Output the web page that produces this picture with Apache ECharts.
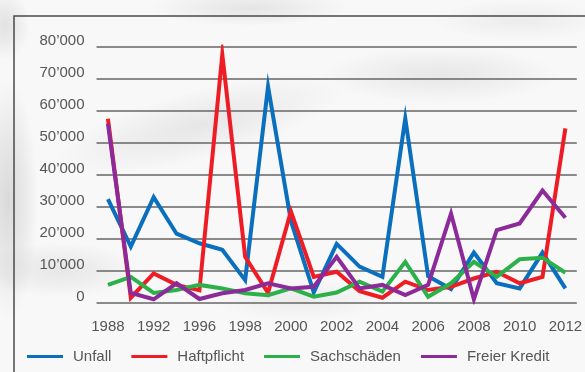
<!DOCTYPE html>
<html>
<head>
<meta charset="utf-8">
<script src="https://cdn.jsdelivr.net/npm/echarts@6/dist/echarts.min.js"></script>
<style>
  html, body { margin: 0; padding: 0; background: #f6f6f6; }
  #chart { width: 585px; height: 372px; }
</style>
</head>
<body>
<div id="chart"></div>
<script>
// Jahre (bis 1996 zweijährlich, danach jährlich)
const years = ['1988', '1990', '1992', '1994', '1996', '1997', '1998', '1999', '2000', '2001',
  '2002', '2003', '2004', '2005', '2006', '2007', '2008', '2009', '2010', '2011', '2012'];

const unfall = [32300, 17500, 32900, 21500, 18500, 16500, 7000, 67500, 25500, 3200,
  18300, 11200, 8000, 57500, 8200, 4200, 15600, 6000, 4400, 15600, 4400];
const haftpflicht = [57400, 1500, 9100, 5500, 3800, 77500, 14300, 3000, 28500, 8000,
  9600, 3500, 1500, 6500, 3900, 4900, 7500, 9600, 6000, 8000, 54400];
const sachschaeden = [5500, 8000, 3000, 3900, 5500, 4400, 2900, 2300, 4400, 1800,
  3100, 6500, 3400, 12700, 1800, 6000, 12700, 8000, 13500, 14000, 9300];
const freierKredit = [55900, 3000, 1000, 6000, 1100, 2900, 3900, 6000, 4400, 4900,
  14300, 4400, 5500, 2300, 5500, 27800, 1000, 22600, 24700, 35000, 26500];

const seriesNames = ['Unfall', 'Haftpflicht', 'Sachschäden', 'Freier Kredit'];
const seriesColors = ['#0a6fbd', '#ee1d25', '#2bb04a', '#8b2a98'];

const chart = echarts.init(document.getElementById('chart'), null, { renderer: 'canvas' });

// soft grey smudges of the paper texture
function smudge(cx, cy, rx, ry, a, rot) {
  return {
    type: 'circle', z: -10, silent: true,
    shape: { cx: 0, cy: 0, r: ry },
    x: cx, y: cy,
    scaleX: rx / ry, scaleY: 1,
    rotation: rot || 0,
    style: {
      fill: new echarts.graphic.RadialGradient(0.5, 0.5, 0.5, [
        { offset: 0, color: 'rgba(0,0,0,' + a + ')' },
        { offset: 0.5, color: 'rgba(0,0,0,' + (a * 0.55) + ')' },
        { offset: 1, color: 'rgba(0,0,0,0)' }
      ])
    }
  };
}

const fontFam = '"Liberation Sans", Arial, Helvetica, sans-serif';

const option = {
  backgroundColor: '#f8f8f8',
  animation: false,
  textStyle: { fontFamily: fontFam },
  graphic: [
    smudge(8, 200, 30, 120, 0.12),
    smudge(5, 25, 25, 35, 0.09),
    smudge(200, 125, 150, 35, 0.07, 0.25),
    smudge(440, 75, 120, 28, 0.07),
    smudge(250, 8, 100, 18, 0.08),
    smudge(60, 270, 80, 28, 0.07),
    smudge(300, 300, 90, 20, 0.05),
    smudge(520, 20, 90, 20, 0.05),
    {
      type: 'rect', z: 10, silent: true,
      shape: { x: 14, y: 16, width: 700, height: 500 },
      style: { fill: 'none', stroke: '#4a4a4a', lineWidth: 1.5 }
    }
  ],
  grid: { left: 96.5, right: 5.5, top: 46.5, bottom: 69.5 },
  legend: {
    data: seriesNames,
    icon: 'rect',
    left: 22, top: 344,
    itemWidth: 36, itemHeight: 3, itemGap: 20,
    textStyle: { color: '#555', fontSize: 15, fontFamily: fontFam, padding: [0, 0, 0, 5] }
  },
  xAxis: {
    type: 'category',
    data: years,
    boundaryGap: true,
    axisLine: { show: false },
    axisTick: { show: false },
    axisLabel: { interval: 1, color: '#555', fontSize: 15, margin: 17, fontFamily: fontFam }
  },
  yAxis: {
    type: 'value',
    min: 0, max: 80000, interval: 10000,
    axisLine: { show: false },
    axisTick: { show: false },
    splitLine: { lineStyle: { color: '#666', width: 1.5 } },
    axisLabel: {
      color: '#555', fontSize: 15, margin: 12, fontFamily: fontFam,
      verticalAlign: 'bottom', lineHeight: 12,
      formatter: v => v === 0 ? '0' : (v / 1000) + '\u2019000'
    }
  },
  series: [unfall, haftpflicht, sachschaeden, freierKredit].map((d, i) => ({
    name: seriesNames[i],
    type: 'line',
    data: d,
    symbol: 'none',
    color: seriesColors[i],
    lineStyle: { width: 4, color: seriesColors[i], join: 'miter', miterLimit: 12, cap: 'butt' }
  }))
};

chart.setOption(option);
</script>
</body>
</html>
